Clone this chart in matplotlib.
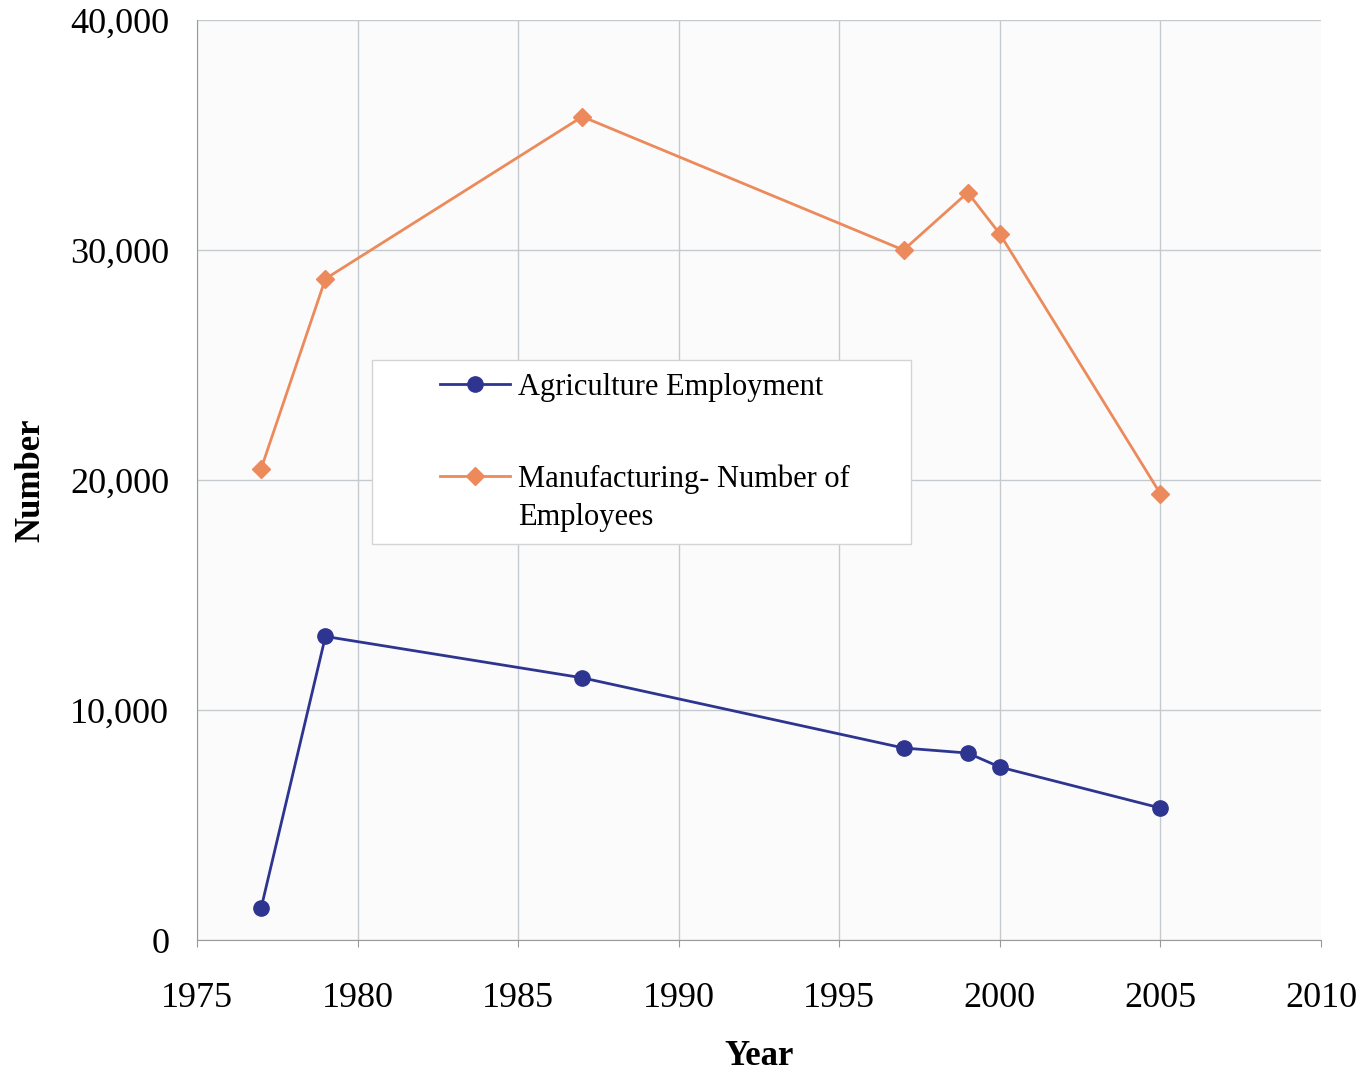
import matplotlib.pyplot as plt
from matplotlib.patches import Rectangle
from matplotlib.ticker import FuncFormatter

years = [1977, 1979, 1987, 1997, 1999, 2000, 2005]
agriculture = [1400, 13200, 11400, 8350, 8130, 7520, 5740]
manufacturing = [20500, 28750, 35800, 30000, 32500, 30700, 19400]

x_ticks = [1975, 1980, 1985, 1990, 1995, 2000, 2005, 2010]
y_ticks = [0, 10000, 20000, 30000, 40000]

plt.rcParams["font.family"] = ["Liberation Serif", "DejaVu Serif"]

fig = plt.figure(figsize=(13.63, 10.72), dpi=100)
ax = fig.add_axes([0.1445, 0.1231, 0.8247, 0.8582])
ax.set_facecolor("#fbfbfb")

ax.plot(years, agriculture, color="#2e3590", lw=2, marker="o", ms=11,
        label="Agriculture Employment")
ax.plot(years, manufacturing, color="#ec8a5c", lw=2, marker="D", ms=9,
        label="Manufacturing- Number of")

ax.set_xlim(1975, 2010)
ax.set_ylim(0, 40000)
ax.set_xticks(x_ticks)
ax.set_yticks(y_ticks)
ax.yaxis.set_major_formatter(FuncFormatter(lambda v, p: f"{int(v):,}"))
ax.grid(True, color="#c4cacd", lw=1)
ax.set_axisbelow(True)
# no vertical rule at the right edge
ax.get_xgridlines()[-1].set_visible(False)

for side in ["top", "right"]:
    ax.spines[side].set_visible(False)
for side in ["left", "bottom"]:
    ax.spines[side].set_color("#9a9a9a")
ax.tick_params(axis="both", labelsize=26, color="#9a9a9a", length=5)
ax.tick_params(axis="y", length=0, pad=20)
ax.tick_params(axis="x", pad=25)

ax.set_xlabel("Year", fontsize=25, fontweight="bold", labelpad=18)
ax.set_ylabel("Number", fontsize=25, fontweight="bold", labelpad=16)

# legend box drawn separately so the entries can sit with a wide left margin
ax.add_patch(Rectangle((0.1557, 0.4304), 0.4795, 0.2, transform=ax.transAxes,
                       facecolor="white", edgecolor="#d4d4d4", lw=1, zorder=4))
leg = ax.legend(loc="upper left", bbox_to_anchor=(0.2162, 0.6163), fontsize=22,
                frameon=False, labelspacing=2.05, handlelength=2.3,
                handletextpad=0.26, borderpad=0, borderaxespad=0)
leg.set_zorder(5)
ax.annotate("Employees", xy=(0, 0), xycoords=leg.get_texts()[1],
            xytext=(0, -6), textcoords="offset points",
            ha="left", va="top", fontsize=22, zorder=6)

fig.savefig("out.png", dpi=100)
